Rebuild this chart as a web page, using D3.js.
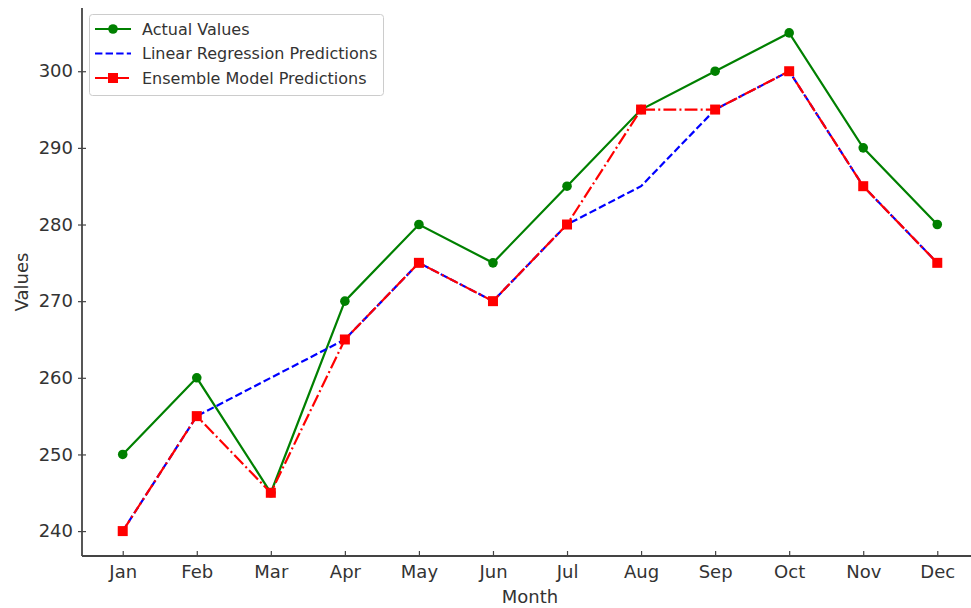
<!DOCTYPE html>
<html><head><meta charset="utf-8">
<script src="https://cdn.jsdelivr.net/npm/d3@7"></script>
<style>body{margin:0;background:#fff}svg{display:block;font-family:"DejaVu Sans",sans-serif}</style>
</head><body><svg id="c" width="971" height="608"></svg>
<script>
const months = ["Jan","Feb","Mar","Apr","May","Jun","Jul","Aug","Sep","Oct","Nov","Dec"];
const actualValues = [250,260,245,270,280,275,285,295,300,305,290,280];
const linearPred = [240,255,260,265,275,270,280,285,295,300,285,275];
const ensemblePred = [240,255,245,265,275,270,280,295,295,300,285,275];
const yTicks = [240,250,260,270,280,290,300];
const seriesNames = ["Actual Values","Linear Regression Predictions","Ensemble Model Predictions"];

const svg = d3.select("#c");
const L=82, R=978, T=8, B=556;
const x = d3.scaleLinear().domain([-0.55, months.length-1+0.55]).range([L,R]);
const y = d3.scaleLinear().domain([236.75,308.25]).range([B,T]);
const axisCol = "#444";

// axes
const gy = svg.append("g").attr("transform",`translate(${L},0)`)
  .call(d3.axisLeft(y).tickValues(yTicks).tickSize(0).tickPadding(9));
gy.select(".domain").remove();
gy.selectAll(".tick").append("line").attr("x1",-4).attr("x2",4).attr("stroke",axisCol).attr("stroke-width",1.2);
gy.selectAll("text").attr("font-size",18).attr("fill","#333").attr("font-family","DejaVu Sans");
const gx = svg.append("g").attr("transform",`translate(0,${B})`)
  .call(d3.axisBottom(x).tickValues(d3.range(months.length)).tickFormat(i=>months[i]).tickSize(0).tickPadding(9));
gx.select(".domain").remove();
gx.selectAll(".tick").append("line").attr("y1",-5).attr("y2",0).attr("stroke",axisCol).attr("stroke-width",1.2);
gx.selectAll("text").attr("font-size",18).attr("fill","#333").attr("font-family","DejaVu Sans");
svg.append("line").attr("x1",L).attr("x2",L).attr("y1",T).attr("y2",B).attr("stroke",axisCol).attr("stroke-width",1.8);
svg.append("line").attr("x1",L).attr("x2",R).attr("y1",B).attr("y2",B).attr("stroke",axisCol).attr("stroke-width",1.8);

svg.append("text").attr("x",(L+R)/2).attr("y",603).attr("text-anchor","middle").attr("font-size",18).attr("fill","#333").text("Month");
svg.append("text").attr("transform",`translate(28,${(T+B)/2}) rotate(-90)`).attr("text-anchor","middle").attr("font-size",18).attr("fill","#333").text("Values");

const line = d3.line().x((d,i)=>x(i)).y(d=>y(d));
const cfg = [
  {data:actualValues, color:"green", dash:null, marker:"circle"},
  {data:linearPred, color:"blue", dash:"7.4,3.2", marker:null},
  {data:ensemblePred, color:"red", dash:"12.8,3.2,2,3.2", marker:"square"}
];
cfg.forEach(c=>{
  svg.append("path").attr("d",line(c.data)).attr("fill","none").attr("stroke",c.color)
    .attr("stroke-width",2.2).attr("stroke-dasharray",c.dash);
  if(c.marker==="circle"){
    svg.append("g").selectAll("circle").data(c.data).join("circle")
      .attr("cx",(d,i)=>x(i)).attr("cy",d=>y(d)).attr("r",4.8).attr("fill",c.color);
  } else if(c.marker==="square"){
    svg.append("g").selectAll("rect").data(c.data).join("rect")
      .attr("x",(d,i)=>x(i)-5).attr("y",d=>y(d)-5).attr("width",10).attr("height",10).attr("fill",c.color);
  }
});

// legend
const lg = svg.append("g");
lg.append("rect").attr("x",89.5).attr("y",14.5).attr("width",294).attr("height",81).attr("rx",3)
  .attr("fill","#fff").attr("fill-opacity",0.85).attr("stroke","#ccc");
cfg.forEach((c,k)=>{
  const yy = 29 + k*24.5;
  lg.append("line").attr("x1",95).attr("x2",131).attr("y1",yy).attr("y2",yy)
    .attr("stroke",c.color).attr("stroke-width",2.2).attr("stroke-dasharray",c.dash);
  if(c.marker==="circle") lg.append("circle").attr("cx",113).attr("cy",yy).attr("r",4.8).attr("fill",c.color);
  if(c.marker==="square") lg.append("rect").attr("x",108).attr("y",yy-5).attr("width",10).attr("height",10).attr("fill",c.color);
  lg.append("text").attr("x",142).attr("y",yy+5.5).attr("font-size",16).attr("fill","#333").text(seriesNames[k]);
});
</script></body></html>
